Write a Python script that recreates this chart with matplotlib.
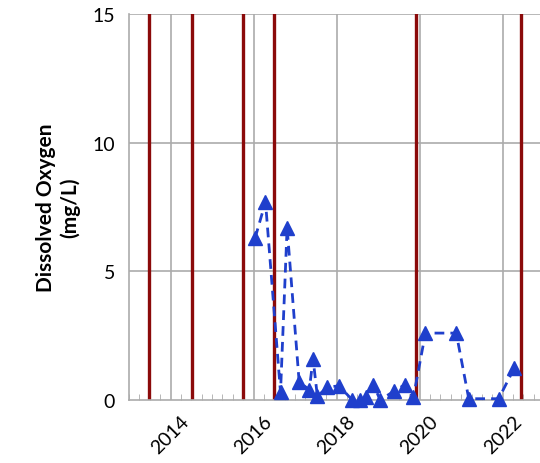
import datetime as dt
import matplotlib
matplotlib.use("Agg")
import matplotlib.pyplot as plt
import matplotlib.dates as mdates

plt.rcParams['font.family'] = ['Lato', 'DejaVu Sans']

# dissolved oxygen samples (mg/L)
sample_dates = ['2016-01-15', '2016-04-15', '2016-08-25', '2016-10-22', '2017-02-05',
                '2017-05-05', '2017-06-07', '2017-07-15', '2017-10-12', '2018-01-22',
                '2018-05-18', '2018-07-24', '2018-09-12', '2018-11-20', '2019-01-18',
                '2019-05-22', '2019-08-25', '2019-11-06', '2020-02-20', '2020-11-17',
                '2021-03-07', '2021-11-25', '2022-04-12']
do_values = [6.3, 7.7, 0.3, 6.7, 0.7,
             0.4, 1.6, 0.15, 0.5, 0.55,
             0.0, 0.0, 0.1, 0.6, 0.0,
             0.35, 0.6, 0.1, 2.6, 2.6,
             0.05, 0.05, 1.25]

# event markers (dark red vertical lines)
event_dates = ['2013-06-25', '2014-07-08', '2015-10-01', '2016-06-28', '2019-12-01', '2022-06-13']

year_ticks = [2014, 2016, 2018, 2020, 2022]
y_ticks = [0, 5, 10, 15]

def to_date(s):
    return dt.datetime.strptime(s, '%Y-%m-%d')

x = [to_date(s) for s in sample_dates]
ev = [to_date(s) for s in event_dates]

fig = plt.figure(figsize=(5.4, 4.64), dpi=100)
ax = fig.add_axes([129/540, 63/464, 436/540, 386/464])

ax.set_xlim(dt.datetime(2013, 1, 1), dt.datetime(2023, 7, 1))
ax.set_ylim(0, 15)

grid_col = '#ababab'
for y in y_ticks[1:]:
    ax.axhline(y, color=grid_col, lw=1.2, zorder=1)
for yr in year_ticks:
    ax.axvline(dt.datetime(yr, 1, 1), color=grid_col, lw=1.2, zorder=1)

for d in ev:
    ax.axvline(d, color='#8b0a0a', lw=2.4, zorder=2)

ax.plot(x, do_values, color='#1f3fcc', lw=2.0, ls=(0, (3.5, 2.2)),
        marker='^', ms=10, zorder=3, clip_on=False)

ax.set_xticks([dt.datetime(yr, 1, 1) for yr in year_ticks])
ax.set_xticklabels([str(yr) for yr in year_ticks], rotation=45, ha='center', fontsize=14)
ax.xaxis.set_minor_locator(mdates.MonthLocator(bymonth=[1, 4, 7, 10]))
ax.tick_params(axis='x', which='both', direction='in', length=4, color=grid_col, pad=9)
ax.tick_params(axis='x', which='major', length=0)

ax.set_yticks(y_ticks)
ax.set_yticklabels([str(v) for v in y_ticks], fontsize=14)
ax.tick_params(axis='y', length=0, pad=10)

for side in ['top', 'right']:
    ax.spines[side].set_visible(False)
for side in ['left', 'bottom']:
    ax.spines[side].set_color(grid_col)
    ax.spines[side].set_linewidth(1.2)

ax.set_ylabel('Dissolved Oxygen\n(mg/L)', fontsize=15, fontweight='bold', labelpad=9)

fig.savefig('out.png', dpi=100)
